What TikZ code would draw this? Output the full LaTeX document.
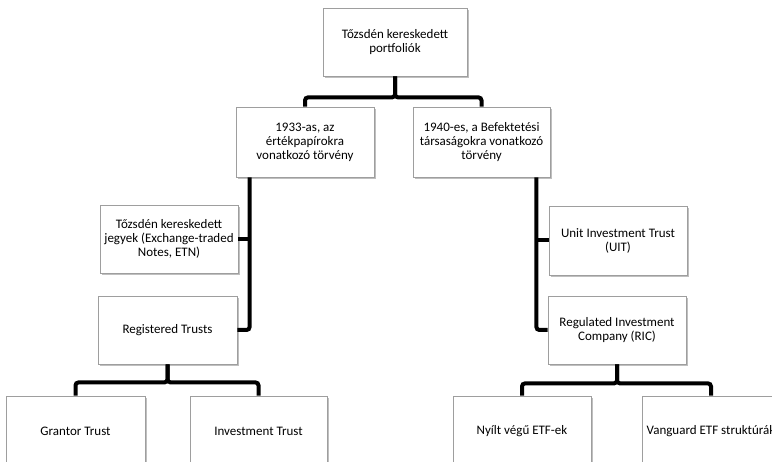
\documentclass[tikz,border=0pt]{standalone}
\usepackage{fontspec}
\setmainfont{Carlito}
\usetikzlibrary{shadows}

\begin{document}
\begin{tikzpicture}[x=1pt,y=-1pt,
  box/.style={draw=black!38,fill=white,line width=0.8pt,minimum width=138pt,minimum height=69pt,
    inner sep=2pt,align=center,font=\fontsize{13}{14}\selectfont,
    drop shadow={shadow xshift=1.5pt,shadow yshift=-2pt,opacity=0.25,fill=black}},
  link/.style={line width=4pt,rounded corners=3pt}]
\useasboundingbox (0,0) rectangle (772,462);
\clip (0,0) rectangle (772,462);
\begin{scope}
  \node[box,minimum width=144pt,minimum height=68pt] (top) at (395,42) {Tőzsdén kereskedett\\portfoliók};
  \node[box,minimum height=70pt] (law33) at (305,142) {1933-as, az\\értékpapírokra\\vonatkozó törvény};
  \node[box,minimum width=137pt,minimum height=70pt] (law40) at (481.5,142) {1940-es, a Befektetési\\társaságokra vonatkozó\\törvény};
\end{scope}
\begin{scope}
  \node[box,minimum height=68pt] (etn) at (169,239) {Tőzsdén kereskedett\\jegyek (Exchange-traded\\Notes, ETN)};
  \node[box,minimum width=139pt,minimum height=68pt] (reg) at (167.5,330) {Registered Trusts};
  \node[box] (uit) at (618,240.5) {Unit Investment Trust\\(UIT)};
  \node[box,minimum height=68pt] (ric) at (617,330) {Regulated Investment\\Company (RIC)};
\end{scope}
\begin{scope}
  \node[box,minimum width=139pt,minimum height=70pt] (grantor) at (75.5,431) {Grantor Trust};
  \node[box,minimum width=137pt,minimum height=70pt] (invtrust) at (258.5,431) {Investment Trust};
  \node[box,minimum height=70pt] (nyilt) at (522,431) {Nyílt végű ETF-ek};
  \node[box,minimum height=70pt] (vanguard) at (711,431) {Vanguard ETF struktúrák};
\end{scope}
\coordinate (lspine) at ([xshift=14pt]law33.south west);
\coordinate (rspine) at ([xshift=-14pt]law40.south east);
\draw[link] (top.south) -- ++(0,21) -| (law33.north);
\draw[link] (top.south) -- ++(0,21) -| (law40.north);
\draw[link] (lspine) |- (reg.east);
\draw[link] (etn.east) -- (etn.east -| lspine);
\draw[link] (rspine) |- (ric.west);
\draw[link] (uit.west) -- (uit.west -| rspine);
\draw[link] (reg.south) -- ++(0,18) -| (grantor.north);
\draw[link] (reg.south) -- ++(0,18) -| (invtrust.north);
\draw[link] (ric.south) -- ++(0,19) -| (nyilt.north);
\draw[link] (ric.south) -- ++(0,19) -| (vanguard.north);
\end{tikzpicture}
\end{document}
